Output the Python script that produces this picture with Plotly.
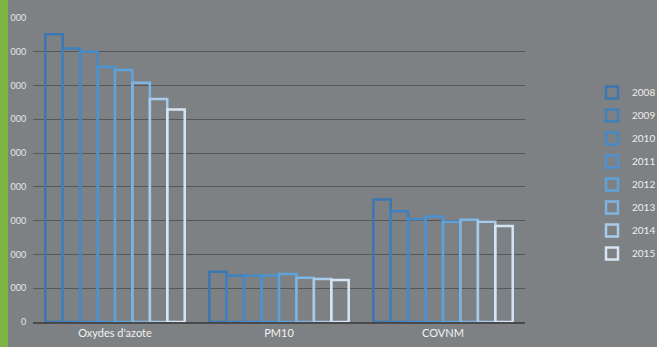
import plotly.graph_objects as go

categories = ["Oxydes d'azote", "PM10", "COVNM"]
years = ["2008", "2009", "2010", "2011", "2012", "2013", "2014", "2015"]
values = {
    "2008": [8520, 1490, 3630],
    "2009": [8100, 1380, 3280],
    "2010": [8000, 1370, 3040],
    "2011": [7550, 1380, 3120],
    "2012": [7460, 1420, 2970],
    "2013": [7080, 1310, 3030],
    "2014": [6600, 1270, 2970],
    "2015": [6290, 1240, 2840],
}
colors = ["#3b78b3", "#3f80be", "#4689c9", "#4b93d3", "#5ea2dc", "#7fb4e2", "#a9cbeb", "#d6e5f5"]
tick_vals = [0, 1000, 2000, 3000, 4000, 5000, 6000, 7000, 8000, 9000]
tick_text = ["0", "000", "000", "000", "000", "000", "000", "000", "000", "000"]

bg = "#7e8183"
W, H = 657, 347
ml, mr, mt, mb = 33, 132, 18, 25
pw = W - ml - mr
ph = H - mt - mb

fig = go.Figure()
for i, y in enumerate(years):
    fig.add_trace(go.Bar(
        x=categories, y=values[y], name=y, legendgroup=y,
        marker=dict(color="rgba(0,0,0,0)", line=dict(color=colors[i], width=2.5)),
    ))

fig.update_layout(
    width=W, height=H,
    margin=dict(l=ml, r=mr, t=mt, b=mb, pad=0, autoexpand=False),
    paper_bgcolor=bg, plot_bgcolor=bg,
    barmode="group", bargap=0.15, bargroupgap=0,
    font=dict(family="Lato, Open Sans, sans-serif", color="#eeeeee", size=10),
    showlegend=True,
    legend=dict(x=(592 - ml) / pw, xanchor="left", y=(322 - 173) / ph, yanchor="middle",
                font=dict(size=10, color="#eeeeee"), tracegroupgap=4,
                itemwidth=30, bgcolor="rgba(0,0,0,0)"),
    xaxis=dict(showgrid=False, showline=True, linecolor="#4a4a4a", linewidth=2,
               ticks="", tickfont=dict(size=11, color="#f2f2f2"), fixedrange=True),
    yaxis=dict(range=[0, 9000], tickvals=tick_vals, ticktext=tick_text,
               showgrid=True, gridcolor="#555759", gridwidth=1, zeroline=False,
               ticks="outside", ticklen=4, tickcolor=bg, tickfont=dict(size=9, color="#e6e6e6"),
               showline=False),
    shapes=[
        dict(type="rect", xref="paper", yref="paper",
             x0=-ml / pw, x1=(8 - ml) / pw, y0=-mb / ph, y1=1 + mt / ph,
             fillcolor="#7cb342", line=dict(width=0), layer="above"),
    ],
)
fig.write_html("out.html")
